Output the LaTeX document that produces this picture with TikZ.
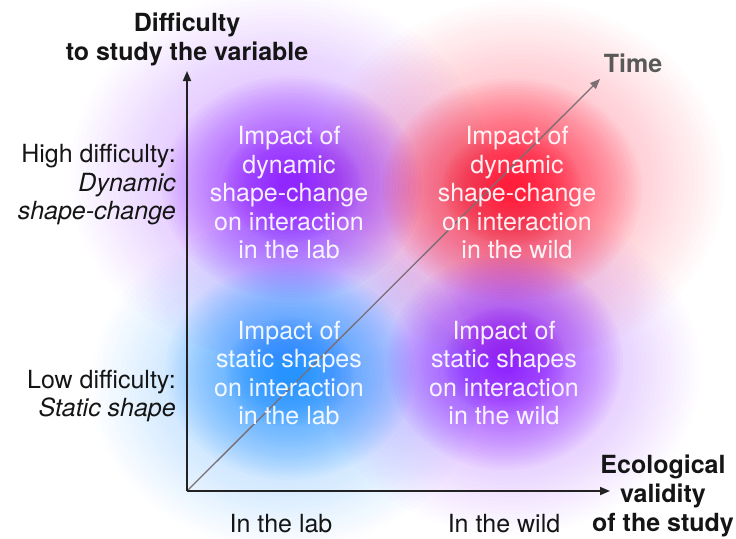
\documentclass[tikz,border=0pt]{standalone}
\usepackage{fontspec}
\setmainfont{TeX Gyre Heros}
\usetikzlibrary{arrows.meta}
\definecolor{vio}{HTML}{8A1AFF}
\definecolor{redc}{HTML}{FF1030}
\definecolor{bluc}{HTML}{1A8CFF}
\definecolor{axisc}{HTML}{222222}
\definecolor{timec}{HTML}{7A6F74}
\definecolor{titlec}{HTML}{151515}
% concentric translucent ellipses give a soft glow
\newcommand\glowblob[6]{%
  \foreach \gi in {1,...,40}{%
    \fill[#1, opacity=#6] (#2,#3) ellipse ({#4*\gi/40} and {#5*\gi/40});}}
\tikzset{
  txt/.style={font=\fontsize{25}{28.5}\selectfont, align=center, inner sep=0pt},
  quad/.style={txt, text=white, text opacity=0.92},
  side/.style={txt, align=right, anchor=east, text=titlec},
  ttl/.style={txt, font=\fontsize{25}{29}\selectfont\bfseries, text=titlec},
  axisline/.style={line width=1.7pt, draw=axisc, -{Triangle[length=10pt,width=8pt]}},
  timeline/.style={line width=1.3pt, draw=timec, -{Triangle[length=10pt,width=8pt]}}
}
\begin{document}
\begin{tikzpicture}[x=1pt,y=-1pt]
\useasboundingbox (0,0) rectangle (736,538);
% glows: halos
\glowblob{vio}{280}{175}{210}{185}{0.011}
\glowblob{redc}{520}{180}{205}{180}{0.011}
\glowblob{bluc}{285}{385}{195}{165}{0.011}
\glowblob{vio}{510}{370}{190}{165}{0.01}
% glows: cores
\glowblob{vio}{292}{188}{130}{112}{0.03}
\glowblob{redc}{512}{190}{130}{112}{0.032}
\glowblob{bluc}{290}{372}{125}{108}{0.03}
\glowblob{vio}{505}{362}{118}{108}{0.03}
% glows: hot centres
\glowblob{vio}{292}{185}{70}{58}{0.03}
\glowblob{redc}{512}{188}{70}{58}{0.03}
\glowblob{bluc}{290}{372}{65}{55}{0.03}
\glowblob{vio}{505}{362}{62}{55}{0.03}
% axes
\coordinate (O) at (187,491);
\coordinate (yend) at (187,71);
\coordinate (xend) at (610,491);
\coordinate (tend) at (600,79);
\draw[timeline] (O) -- (tend);
\draw[axisline] (O) -- (yend);
\draw[axisline] (O) -- (xend);
% quadrant texts
\node[quad] (tl) at (289,193) {Impact of\\dynamic\\shape-change\\on interaction\\in the lab};
\node[quad] (tr) at (517,193) {Impact of\\dynamic\\shape-change\\on interaction\\in the wild};
\node[quad] (bl) at (289,373) {Impact of\\static shapes\\on interaction\\in the lab};
\node[quad] (br) at (504,373) {Impact of\\static shapes\\on interaction\\in the wild};
% side labels
\node[side] (high) at (176,185) {High difficulty:\\\textit{Dynamic}\\\textit{shape-change}};
\node[side] (low) at (176,396) {Low difficulty:\\\textit{Static shape}};
\node[txt, text=titlec] (lab) at (281,524) {In the lab};
\node[txt, text=titlec] (wild) at (504,524) {In the wild};
% titles
\node[ttl] (ytitle) at (187,39) {Difficulty\\to study the variable};
\node[ttl, text=black!65] (time) at (633,63) {Time};
\node[ttl] (xtitle) at (663,496) {Ecological\\validity\\of the study};
\end{tikzpicture}
\end{document}
